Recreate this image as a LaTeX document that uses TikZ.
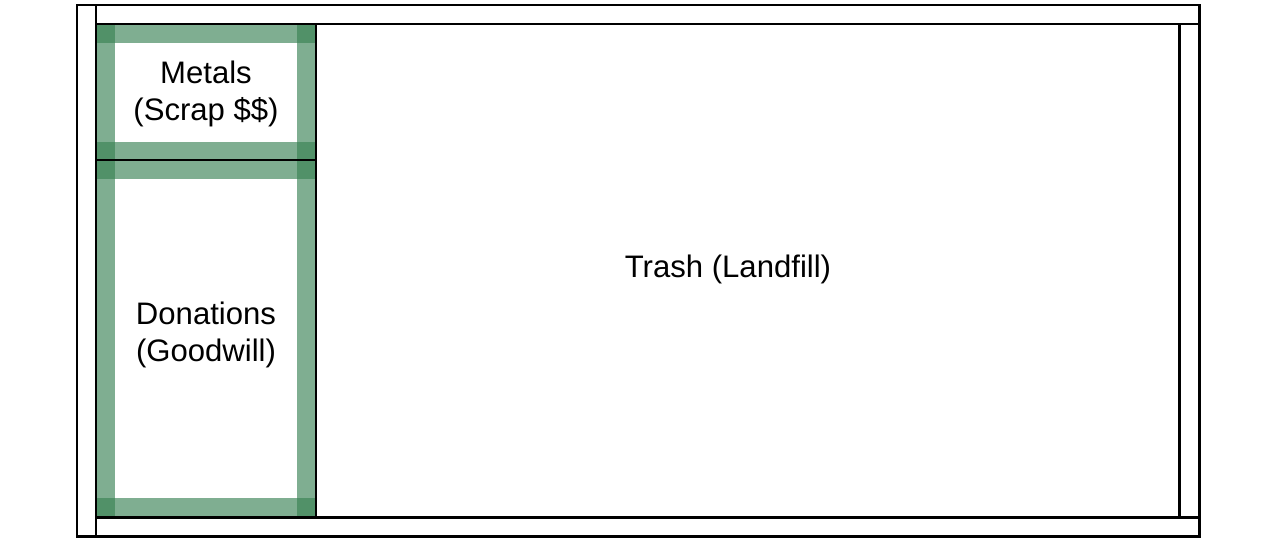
\documentclass[tikz,border=0pt]{standalone}
\usepackage{fontspec}
\setmainfont{Liberation Sans}
\usepackage{xcolor}
\definecolor{binGreen}{RGB}{53,127,80}

\tikzset{
	wall/.style={black, line width=1.7pt},
	tape/.style={fill=binGreen, fill opacity=0.63},
	binlabel/.style={font=\fontsize{17.7}{20.8}\selectfont, align=center, text=black}
}

\begin{document}
\begin{tikzpicture}[x=0.02cm, y=-0.02cm]
	\useasboundingbox (0,0) rectangle (1280,541);

	% green tape round the two bins
	\fill[tape] (96,24) rectangle (316,43);
	\fill[tape] (96,142) rectangle (316,160);
	\fill[tape] (96,24) rectangle (115,160);
	\fill[tape] (297,24) rectangle (316,160);

	\fill[tape] (96,160) rectangle (316,179);
	\fill[tape] (96,498) rectangle (316,517);
	\fill[tape] (96,160) rectangle (115,517);
	\fill[tape] (297,160) rectangle (316,517);

	% frame
	\draw[wall] (77,5) rectangle (1199,536);
	\draw[wall] (96,5) -- (96,536);
	\draw[wall] (96,24) -- (1199,24);
	\draw[wall] (96,517) -- (1199,517);
	\draw[wall] (1179,24) -- (1179,517);

	% bins
	\draw[wall] (316,24) -- (316,517);
	\draw[wall] (96,160) -- (316,160);

	\node[binlabel] (metals) at (206,94) {Metals\\(Scrap \$\$)};
	\node[binlabel] (donations) at (206,335) {Donations\\(Goodwill)};
	\node[binlabel] (trash) at (728,269) {Trash (Landfill)};
\end{tikzpicture}
\end{document}
